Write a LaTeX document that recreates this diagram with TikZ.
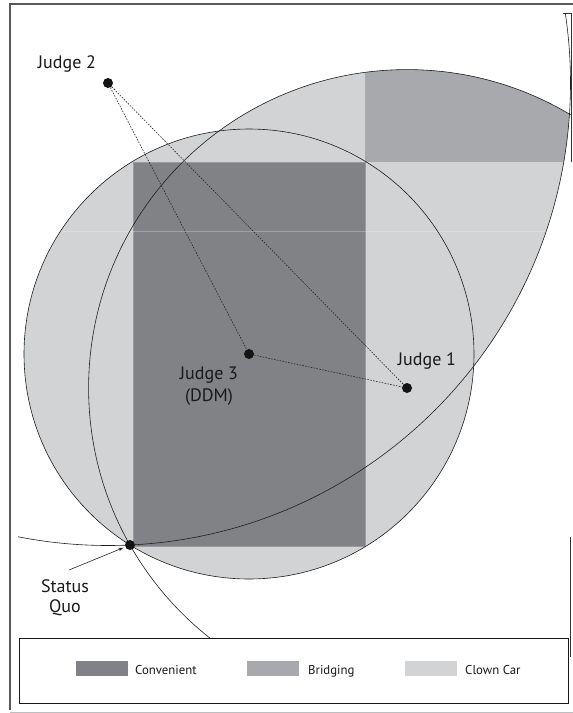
\documentclass[tikz,border=0pt]{standalone}
\usepackage{fontspec}
\setmainfont{PT Sans}
\usetikzlibrary{arrows.meta}

\definecolor{convgray}{HTML}{808285}
\definecolor{bridgray}{HTML}{A7A9AC}
\definecolor{clowngray}{HTML}{D1D3D4}
\definecolor{framegray}{HTML}{58595B}
\definecolor{edgegray}{HTML}{BCBEC0}

% radii: each judge's circle passes through the status quo
\def\rA{225.0pt}
\def\rB{318.4pt}
\def\rC{462.5pt}

\tikzset{
  dot/.style={circle, fill=black!92, inner sep=0pt, minimum size=10pt},
  pref/.style={draw=black!88, line width=0.6pt},
  link/.style={draw=black!85, line width=0.6pt, dash pattern=on 1.6pt off 1.3pt},
  pointer/.style={draw=black!85, line width=0.6pt, -{Stealth[length=5pt,width=3.5pt]}},
  judgelabel/.style={font=\fontsize{18}{22}\selectfont, text=black!90, inner sep=0pt},
  keylabel/.style={font=\fontsize{12.8}{15}\selectfont, text=black!90, inner sep=0pt}
}

\begin{document}
\begin{tikzpicture}[x=1pt, y=-1pt]
\useasboundingbox (0,0) rectangle (573,713);

% positions of the judges and the status quo
\coordinate (J1pos) at (407,388);
\coordinate (J2pos) at (108,83);
\coordinate (J3pos) at (249,354);
\coordinate (SQpos) at (130,545);

% ---- shaded regions ----
% clown car: lens of judges 1 and 2, plus judge 3's circle
\begin{scope}
  \clip (J1pos) circle[radius=\rB];
  \fill[clowngray] (J2pos) circle[radius=\rC];
\end{scope}
\fill[clowngray] (J3pos) circle[radius=\rA];
% bridging: upper right part of the lens
\begin{scope}
  \clip (J1pos) circle[radius=\rB];
  \clip (J2pos) circle[radius=\rC];
  \fill[bridgray] (365,0) rectangle (600,162);
\end{scope}
% convenient: rectangle inscribed in judge 3's circle
\fill[convgray, draw=convgray!80!white, line width=0.5pt] (133,162) rectangle (365,546);
% faint seam across the shading
\draw[white, opacity=0.25, line width=0.8pt] (61,231) -- (546,231);

% ---- preference circles ----
\draw[pref] (J3pos) circle[radius=\rA];
\begin{scope}
  \clip (10,4) rectangle (571,638);
  \draw[pref] (J1pos) circle[radius=\rB];
\end{scope}
\begin{scope}
  \clip (18,13) rectangle (571,638);
  \draw[pref] (J2pos) circle[radius=\rC];
\end{scope}

% ---- frame ----
\draw[framegray, line width=1.1pt] (10,710) -- (10,4) -- (573,4);
\draw[edgegray, line width=1pt] (10,712) -- (573,712);
\draw[black!80, line width=0.6pt] (563,13) -- (571,13) -- (571,162);
\draw[black!80, line width=0.8pt] (570,537) -- (570,657);

% ---- judges and status quo ----
\node[dot] (j1) at (J1pos) {};
\node[dot] (j2) at (J2pos) {};
\node[dot] (j3) at (J3pos) {};
\node[dot] (sq) at (SQpos) {};

\draw[link] (j2) -- (j3);
\draw[link] (j2) -- (j1);
\draw[link] (j3) -- (j1);

\node[judgelabel, anchor=base] (l2) at (67,68) {Judge 2};
\node[judgelabel, anchor=base] (l1) at (427,365) {Judge 1};
\node[judgelabel, anchor=base, align=center] (l3) at (209,401) {Judge 3\\(DDM)};
\node[judgelabel, anchor=base, align=center] (lsq) at (65,612) {Status\\[-2pt]Quo};

\coordinate (sqtail) at (69,570);
\draw[pointer, shorten >=2pt] (sqtail) -- (sq);

% ---- legend ----
\draw[black!90, line width=0.9pt] (19,638) rectangle (568,703);
\fill[convgray] (76,661) rectangle (128,676);
\fill[bridgray] (247,661) rectangle (299,676);
\fill[clowngray] (405,661) rectangle (457,676);
\node[keylabel, anchor=base west] (k1) at (135,674) {Convenient};
\node[keylabel, anchor=base west] (k2) at (308,674) {Bridging};
\node[keylabel, anchor=base west] (k3) at (465,674) {Clown Car};
\end{tikzpicture}
\end{document}
